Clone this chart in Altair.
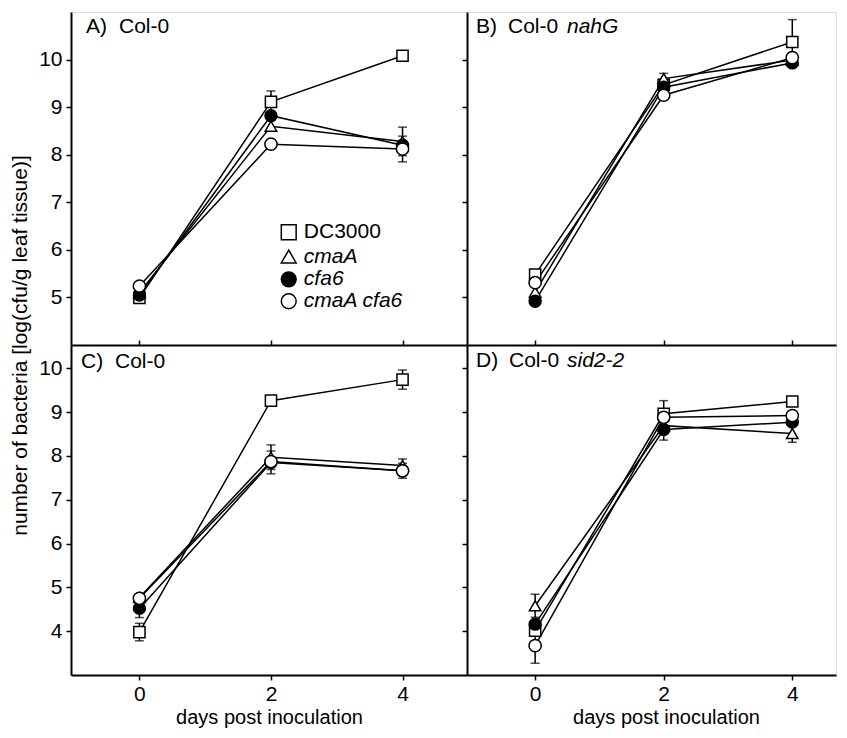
import altair as alt
import pandas as pd

FONT = "Liberation Sans"
days = [0, 2, 4]
series_names = ["DC3000", "cmaA", "cfa6", "cmaA cfa6"]
series_shapes = ["square", "triangle-up", "circle", "circle"]
series_fills = ["white", "white", "black", "white"]
series_sizes = [125, 150, 115, 115]

# Panel A: Col-0
a_dc3000 = [4.99, 9.11, 10.08]
a_cmaA = [5.10, 8.60, 8.28]
a_cfa6 = [5.05, 8.82, 8.20]
a_cmaA_cfa6 = [5.24, 8.22, 8.12]
a_err_dc3000 = [0.0, 0.23, 0.0]
a_err_cmaA = [0.0, 0.0, 0.30]
a_err_cfa6 = [0.0, 0.0, 0.0]
a_err_cmaA_cfa6 = [0.0, 0.0, 0.27]

# Panel B: Col-0 nahG
b_dc3000 = [5.48, 9.47, 10.37]
b_cmaA = [5.11, 9.60, 9.99]
b_cfa6 = [4.92, 9.42, 9.93]
b_cmaA_cfa6 = [5.31, 9.25, 10.04]
b_err_dc3000 = [0.0, 0.0, 0.47]
b_err_cmaA = [0.0, 0.11, 0.0]
b_err_cfa6 = [0.05, 0.0, 0.06]
b_err_cmaA_cfa6 = [0.0, 0.0, 0.0]

# Panel C: Col-0
c_dc3000 = [3.98, 9.26, 9.74]
c_cmaA = [4.77, 7.97, 7.78]
c_cfa6 = [4.52, 7.85, 7.66]
c_cmaA_cfa6 = [4.75, 7.87, 7.66]
c_err_dc3000 = [0.20, 0.0, 0.22]
c_err_cmaA = [0.0, 0.28, 0.15]
c_err_cfa6 = [0.21, 0.26, 0.17]
c_err_cmaA_cfa6 = [0.0, 0.0, 0.0]

# Panel D: Col-0 sid2-2
d_dc3000 = [4.01, 8.96, 9.24]
d_cmaA = [4.58, 8.69, 8.51]
d_cfa6 = [4.16, 8.60, 8.77]
d_cmaA_cfa6 = [3.67, 8.88, 8.92]
d_err_dc3000 = [0.0, 0.30, 0.0]
d_err_cmaA = [0.26, 0.0, 0.20]
d_err_cfa6 = [0.0, 0.24, 0.0]
d_err_cmaA_cfa6 = [0.40, 0.0, 0.0]

y_ticks_top = [5, 6, 7, 8, 9, 10]
y_ticks_bottom = [4, 5, 6, 7, 8, 9, 10]
x_ticks = [0, 2, 4]

YTITLE = "number of bacteria [log(cfu/g leaf tissue)]"
XTITLE = "days post inoculation"

legend_y = [6.37, 5.86, 5.38, 4.92]
legend_x = 2.27
legend_text_x = 2.50


def build_df(vals, errs):
    rows = []
    for k, name in enumerate(series_names):
        for i, d in enumerate(days):
            v = vals[k][i]
            e = errs[k][i]
            rows.append({"series": name, "order": k, "day": d, "value": v,
                         "lo": v - e, "hi": v + e, "err": e})
    return pd.DataFrame(rows)


df_a = build_df([a_dc3000, a_cmaA, a_cfa6, a_cmaA_cfa6],
                [a_err_dc3000, a_err_cmaA, a_err_cfa6, a_err_cmaA_cfa6])
df_b = build_df([b_dc3000, b_cmaA, b_cfa6, b_cmaA_cfa6],
                [b_err_dc3000, b_err_cmaA, b_err_cfa6, b_err_cmaA_cfa6])
df_c = build_df([c_dc3000, c_cmaA, c_cfa6, c_cmaA_cfa6],
                [c_err_dc3000, c_err_cmaA, c_err_cfa6, c_err_cmaA_cfa6])
df_d = build_df([d_dc3000, d_cmaA, d_cfa6, d_cmaA_cfa6],
                [d_err_dc3000, d_err_cmaA, d_err_cfa6, d_err_cmaA_cfa6])

shape_scale = alt.Scale(domain=series_names, range=series_shapes)
fill_scale = alt.Scale(domain=series_names, range=series_fills)
size_scale = alt.Scale(domain=series_names, range=series_sizes)


def label_layer(text, x, y, italic=False):
    return alt.Chart(pd.DataFrame({"t": [text]})).mark_text(
        align="left", baseline="alphabetic", fontSize=21, font=FONT,
        fontStyle="italic" if italic else "normal", color="black"
    ).encode(text="t:N", x=alt.value(x), y=alt.value(y))


def make_panel(df, width, height, xdom, ydom, yticks, left_labels, bottom,
               labels, xtitle_x=None, legend=False):
    xs = alt.Scale(domain=xdom, nice=False, zero=False)
    ys = alt.Scale(domain=ydom, nice=False, zero=False)

    y_axis_kw = dict(values=yticks, grid=False, tickSize=5, tickWidth=1.5,
                     tickColor="black", domainColor="black", domainWidth=2,
                     labelFontSize=21, labelColor="black", labelFont=FONT,
                     labelPadding=4, labels=left_labels)
    if left_labels and not bottom:
        y_axis = alt.Axis(title=YTITLE, titleX=-45, titleY=height,
                          titleAngle=270, titleAlign="center",
                          titleBaseline="alphabetic", titleFontSize=21,
                          titleFontWeight="normal", titleFont=FONT,
                          titleColor="black", **y_axis_kw)
    else:
        y_axis = alt.Axis(title=None, **y_axis_kw)

    top_axis = alt.Axis(orient="top", values=x_ticks, labels=False,
                        ticks=bottom, tickSize=5, tickWidth=1.5,
                        tickColor="black", domainColor="black",
                        domainWidth=2, grid=False, title=None)
    if bottom:
        bkw = dict(orient="bottom", values=x_ticks, grid=False, tickSize=5,
                   tickWidth=1.5, tickColor="black", domainColor="black",
                   domainWidth=2, labelFontSize=21, labelColor="black",
                   labelFont=FONT, labelPadding=3, title=XTITLE,
                   titleFontSize=20, titleFontWeight="normal",
                   titleFont=FONT, titleColor="black",
                   titleY=48, titleBaseline="alphabetic")
        if xtitle_x is not None:
            bkw["titleX"] = xtitle_x
        line_axis = alt.Axis(**bkw)
    else:
        line_axis = top_axis

    base = alt.Chart(df)
    errs = base.transform_filter("datum.err > 0").mark_errorbar(
        ticks={"size": 9, "thickness": 1.5}, color="black", thickness=1.5
    ).encode(
        x=alt.X("day:Q", scale=xs, axis=None),
        y=alt.Y("lo:Q", scale=ys, axis=y_axis),
        y2="hi:Q",
    )
    lines = base.mark_line(color="black", strokeWidth=1.5).encode(
        x=alt.X("day:Q", scale=xs, axis=line_axis),
        y=alt.Y("value:Q", scale=ys, axis=y_axis),
        detail="series:N",
        order="day:Q",
    )
    pts = base.mark_point(opacity=1, stroke="black", strokeWidth=1.5).encode(
        x=alt.X("day:Q", scale=xs, axis=top_axis if bottom else line_axis),
        y=alt.Y("value:Q", scale=ys, axis=y_axis),
        shape=alt.Shape("series:N", scale=shape_scale, legend=None),
        fill=alt.Fill("series:N", scale=fill_scale, legend=None),
        size=alt.Size("series:N", scale=size_scale, legend=None),
        order="order:Q",
    )
    layers = [errs, lines, pts]
    if legend:
        leg = pd.DataFrame({"series": series_names, "ly": legend_y,
                            "lx": [legend_x] * 4,
                            "tx": [legend_text_x] * 4,
                            "italic": [0, 1, 1, 1]})
        lpts = alt.Chart(leg).mark_point(opacity=1, stroke="black",
                                         strokeWidth=1.5, size=220).encode(
            x=alt.X("lx:Q", scale=xs, axis=line_axis),
            y=alt.Y("ly:Q", scale=ys, axis=y_axis),
            shape=alt.Shape("series:N", scale=shape_scale, legend=None),
            fill=alt.Fill("series:N", scale=fill_scale, legend=None),
        )
        ltxt_n = alt.Chart(leg).transform_filter("datum.italic == 0").mark_text(
            align="left", baseline="middle", fontSize=21, font=FONT, color="black"
        ).encode(x=alt.X("tx:Q", scale=xs, axis=line_axis),
                 y=alt.Y("ly:Q", scale=ys, axis=y_axis), text="series:N")
        ltxt_i = alt.Chart(leg).transform_filter("datum.italic == 1").mark_text(
            align="left", baseline="middle", fontSize=21, font=FONT,
            fontStyle="italic", color="black"
        ).encode(x=alt.X("tx:Q", scale=xs, axis=line_axis),
                 y=alt.Y("ly:Q", scale=ys, axis=y_axis), text="series:N")
        layers += [lpts, ltxt_n, ltxt_i]
    for (t, x, y, it) in labels:
        layers.append(label_layer(t, x, y, it))
    ch = alt.layer(*layers).properties(width=width, height=height)
    if bottom:
        ch = ch.resolve_axis(x="independent")
    return ch


W_LEFT = 396
W_RIGHT = 369
H_TOP = 333
H_BOT = 330
XDOM_L = [-1.04, 4.98]
XDOM_R = [-1.06, 4.68]
YDOM_T = [4, 11]
YDOM_B = [3, 10.53]

pa = make_panel(df_a, W_LEFT, H_TOP, XDOM_L, YDOM_T, y_ticks_top, True, False,
                [("A)", 15, 21, False), ("Col-0", 48, 21, False)], legend=True)
pb = make_panel(df_b, W_RIGHT, H_TOP, XDOM_R, YDOM_T, y_ticks_top, False, False,
                [("B)", 9, 21, False), ("Col-0", 41, 21, False),
                 ("nahG", 100, 21, True)])
pc = make_panel(df_c, W_LEFT, H_BOT, XDOM_L, YDOM_B, y_ticks_bottom, True, True,
                [("C)", 10, 23, False), ("Col-0", 44, 23, False)])
pd_ = make_panel(df_d, W_RIGHT, H_BOT, XDOM_R, YDOM_B, y_ticks_bottom, False, True,
                 [("D)", 9, 22, False), ("Col-0", 42, 22, False),
                  ("sid2-2", 100, 22, True)], xtitle_x=199)

chart = alt.concat(pa, pb, pc, pd_, columns=2, spacing=0, bounds="flush").properties(
    padding={"left": 0, "top": 3, "right": 0, "bottom": 0}
).configure_view(stroke=None).configure(font=FONT, background="white")

chart.save("out.html", embed_options={"renderer": "svg", "actions": False})
